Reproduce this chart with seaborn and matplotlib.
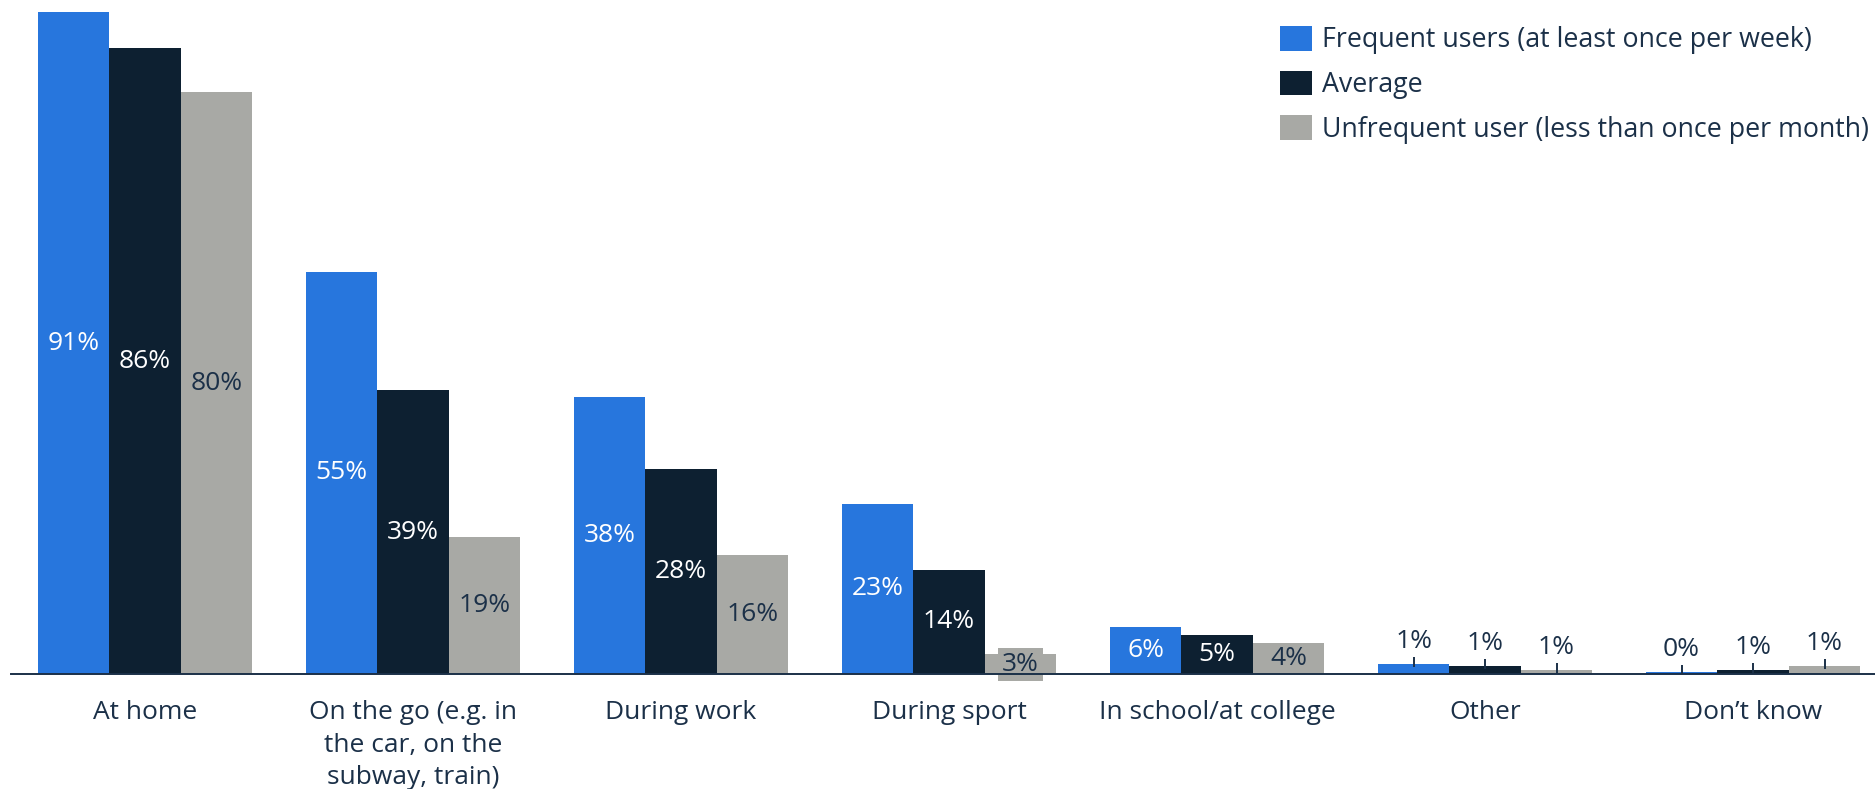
import matplotlib
matplotlib.use("Agg")
import matplotlib.pyplot as plt
import seaborn as sns
import pandas as pd
from matplotlib.patches import Patch

# Where people listen, by user group (share of respondents, %)
categories = [
    "At home",
    "On the go (e.g. in\nthe car, on the\nsubway, train)",
    "During work",
    "During sport",
    "In school/at college",
    "Other",
    "Don\u2019t know",
]
series = [
    "Frequent users (at least once per week)",
    "Average",
    "Unfrequent user (less than once per month)",
]
frequent = [91, 55.3, 38.1, 23.4, 6.4, 1.4, 0.3]
average = [86, 39, 28.2, 14.3, 5.4, 1.1, 0.6]
unfrequent = [80, 18.9, 16.4, 2.7, 4.3, 0.6, 1.1]

colors = ["#2776dd", "#0d2031", "#a8a9a5"]
label_colors = ["white", "white", "#1b3048"]
text_color = "#1b3048"
fs = 19

df = pd.DataFrame({
    "category": categories * 3,
    "group": [s for s in series for _ in categories],
    "value": frequent + average + unfrequent,
})

sns.set_theme(style="white")
plt.rcParams["font.family"] = ["Open Sans", "DejaVu Sans"]

fig = plt.figure(figsize=(18.75, 7.89), dpi=100)
ax = fig.add_axes([11 / 1875, 115 / 789, 1 - 11 / 1875, 1 - 115 / 789])

sns.barplot(
    data=df, x="category", y="value", hue="group",
    palette=colors, width=0.8, saturation=1, ax=ax,
    order=categories, hue_order=series, legend=False,
    linewidth=0, edgecolor="none",
)

ax.set_xlim(-0.5, 6.455)
ax.set_ylim(0, 92.65)
ax.set_xlabel("")
ax.set_ylabel("")
ax.set_yticks([])
for side in ["left", "right", "top"]:
    ax.spines[side].set_visible(False)
ax.spines["bottom"].set_color(text_color)
ax.spines["bottom"].set_linewidth(1.4)
ax.spines["bottom"].set_zorder(5)
ax.tick_params(axis="x", length=0, pad=19, labelsize=fs, labelcolor=text_color)
for lbl in ax.get_xticklabels():
    lbl.set_linespacing(1.39)

# Value labels: centered inside the bar, or above it with a short leader
px_per_unit = ax.bbox.height / 92.65
for k, container in enumerate(ax.containers):
    vals = [frequent, average, unfrequent][k]
    for bar, v in zip(container.patches, vals):
        xc = bar.get_x() + bar.get_width() / 2
        txt = f"{v:.0f}%"
        if v >= 2:
            h_px = v * px_per_unit
            box = None
            if h_px < 28:
                box = dict(boxstyle="square,pad=0.15", fc=colors[k], ec="none")
            ax.text(xc, v / 2, txt, ha="center", va="center",
                    fontsize=fs, color=label_colors[k], bbox=box)
        else:
            ax.vlines(xc, v - 3 / px_per_unit, v + 7 / px_per_unit,
                      color=text_color, lw=1.4, zorder=6)
            ax.annotate(txt, (xc, v), xytext=(0, 7), textcoords="offset points",
                        ha="center", va="bottom", fontsize=fs, color=text_color)

handles = [Patch(facecolor=c, edgecolor="none") for c in colors]
fig.legend(
    handles, series, loc="upper left", bbox_to_anchor=(1280 / 1875, 1 - 26 / 789),
    frameon=False, fontsize=19.3, labelcolor=text_color, borderpad=0,
    handlelength=1.19, handleheight=1.04, handletextpad=0.38, labelspacing=0.6,
    borderaxespad=0,
)

fig.savefig("out.png", dpi=100)
